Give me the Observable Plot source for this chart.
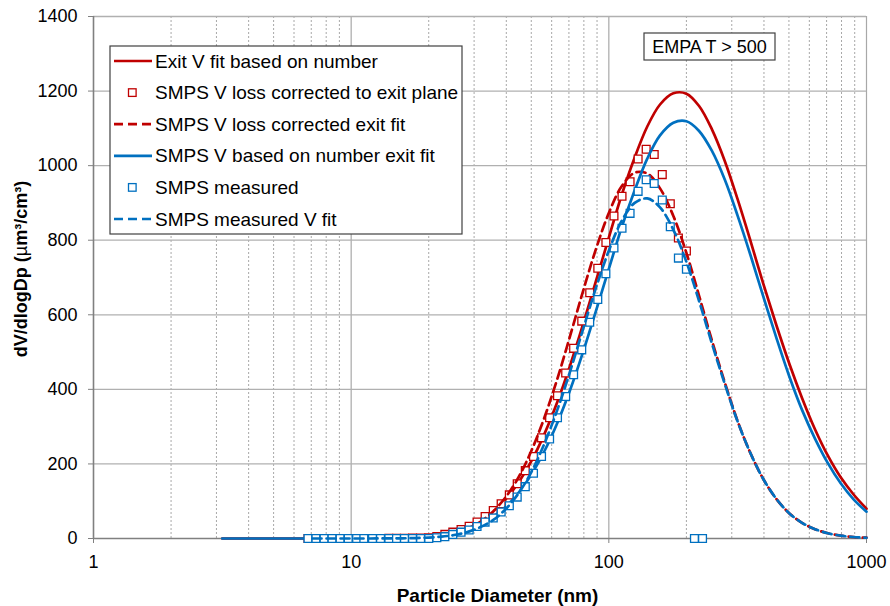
<!DOCTYPE html>
<html><head><meta charset="utf-8">
<script src="https://cdn.jsdelivr.net/npm/d3@7"></script>
<script src="https://cdn.jsdelivr.net/npm/@observablehq/plot@0.6"></script>
<style>
body{margin:0;background:#fff;}
#chart{position:relative;width:890px;height:606px;}
</style>
</head><body><div id="chart"></div>
<script>
// SMPS channel diameters (nm)
const smpsD = [6.80,7.30,7.85,8.43,9.06,9.74,10.5,11.2,12.1,13.0,14.0,15.0,16.1,17.3,18.6,20.0,21.5,23.1,24.8,26.7,28.7,30.8,33.1,35.6,38.2,41.1,44.1,47.4,51.0,54.8,58.9,63.2,68.0,73.0,78.5,84.3,90.6,97.4,104.7,112.5,120.9,129.9,139.6,150.0,161.2,173.2,186.2,200.0,214.9,231.0];
// SMPS V loss corrected to exit plane (red squares)
const smpsCorrected = [0,0,0,0,0,0,0,0,0,0.2,0.3,0.5,0.8,1,1.5,2,5,11,17,24,33,44,59,75,93,117,147,182,220,270,324,383,444,510,583,659,725,794,865,918,957,1018,1044,1030,976,898,806,771,null,null];
// SMPS measured (blue squares)
const smpsMeasured = [0,0,0,0,0,0,0,0,0,0,0,0,0,0,0,0,2,5,11,17,23,32,44,55,71,88,111,139,175,220,267,324,381,439,506,580,641,710,779,832,872,931,962,952,908,836,752,722,0,0];

// Fit curve diameters (nm)
const fitD = [3.16,3.55,3.98,4.47,5.01,5.62,6.31,7.08,7.94,8.91,10,11.2,12.6,14.1,15.8,17.8,20.0,22.4,25.1,28.2,31.6,35.5,39.8,44.7,50.1,56.2,63.1,70.8,79.4,89.1,100,112,126,141,158,178,200,224,251,282,316,355,398,447,501,562,631,708,794,891,1000];
const exitVFit = [0,0,0,0,0,0,0,0,0,0.1,0.2,0.4,0.8,1.4,2.5,4.4,7.5,12.5,20,32,49,73,106,151,208,280,366,465,574,690,807,920,1022,1105,1164,1194,1193,1160,1098,1012,910,797,682,572,470,377,293,222,164,118,80];
const correctedFit = [null,null,null,null,null,null,null,0,0,0,0,0.05,0.2,0.5,1.1,2.2,4.4,8.3,15,26,44,72,111,165,236,324,428,544,663,776,873,944,981,979,939,865,766,651,532,418,315,228,159,106,68,42,25,14,7.8,4.1,2.1];
const numberExitFit = [0,0,0,0,0,0,0,0,0,0,0.1,0.25,0.5,0.9,1.7,3,5.3,9,15,24,38,58,85,123,172,234,310,399,500,610,723,833,934,1019,1081,1115,1119,1093,1040,962,866,759,648,538,436,345,268,202,148,105,72];
const measuredFit = [null,null,null,null,null,null,null,0,0,0,0,0.03,0.1,0.3,0.6,1.2,2.5,4.9,9.3,17,30,49,79,122,179,254,345,449,561,672,772,851,900,912,888,828,742,637,524,414,314,228,159,106,68,42,25,14,7.6,4.0,2.0];

const xMajor = [1,10,100,1000];
const xMinor = [2,3,4,5,6,7,8,9,20,30,40,50,60,70,80,90,200,300,400,500,600,700,800,900];
const yTicks = [0,200,400,600,800,1000,1200,1400];

const legendLabels = ["Exit V fit based on number","SMPS V loss corrected to exit plane","SMPS V loss corrected exit fit","SMPS V based on number exit fit","SMPS measured","SMPS measured V fit"];
const annotation = "EMPA T > 500";
const xTitle = "Particle Diameter (nm)";

const RED = "#C00000", BLUE = "#0070C0";
const smpsRows = smpsD.map((d,i)=>({d, corr: smpsCorrected[i], meas: smpsMeasured[i]}));
const fitRows = fitD.map((d,i)=>({d, exitV: exitVFit[i], corrFit: correctedFit[i], numFit: numberExitFit[i], measFit: measuredFit[i]}));

const lineW = 2.7, dash = "9,5", CURVE = "catmull-rom";
const chart = Plot.plot({
  width: 890, height: 606,
  marginLeft: 93, marginRight: 24, marginTop: 16, marginBottom: 68,
  style: {fontFamily: "'Liberation Sans', Arial, sans-serif", fontSize: "18px", color: "#000", background: "#fff", overflow: "visible"},
  x: {type: "log", domain: [1,1000], label: null},
  y: {domain: [0,1400], label: null},
  marks: [
    Plot.ruleX(xMinor, {stroke: "#a8a8a8", strokeWidth: 1, strokeDasharray: "2,2"}),
    Plot.ruleX(xMajor.slice(1), {stroke: "#a8a8a8", strokeWidth: 1.2}),
    Plot.ruleY(yTicks.slice(1), {stroke: "#b0b0b0", strokeWidth: 1.3}),
    Plot.ruleY([0], {stroke: "#808080", strokeWidth: 1.6}),
    Plot.ruleX([1], {stroke: "#808080", strokeWidth: 1.6}),
    Plot.axisX({ticks: xMajor, tickFormat: d3.format("d"), tickSize: 5, tickPadding: 12, stroke: "#808080", label: null}),
    Plot.axisY({ticks: yTicks, tickFormat: d3.format("d"), tickSize: 5, tickPadding: 11, stroke: "#808080", label: null}),
    Plot.line(fitRows, {x: "d", y: "exitV", stroke: RED, strokeWidth: lineW, curve: CURVE}),
    Plot.dot(smpsRows.filter(r=>r.corr!=null), {x: "d", y: "corr", symbol: "square", r: 4.4, stroke: RED, fill: "white", strokeWidth: 1.3}),
    Plot.line(fitRows.filter(r=>r.corrFit!=null), {x: "d", y: "corrFit", stroke: RED, strokeWidth: lineW, strokeDasharray: dash, curve: CURVE}),
    Plot.line(fitRows, {x: "d", y: "numFit", stroke: BLUE, strokeWidth: lineW, curve: CURVE}),
    Plot.dot(smpsRows, {x: "d", y: "meas", symbol: "square", r: 4.4, stroke: BLUE, fill: "white", strokeWidth: 1.3}),
    Plot.line(fitRows.filter(r=>r.measFit!=null), {x: "d", y: "measFit", stroke: BLUE, strokeWidth: lineW, strokeDasharray: dash, curve: CURVE})
  ]
});
document.getElementById("chart").appendChild(chart);

const svg = d3.select(chart);
const FONT = "'Liberation Sans', Arial, sans-serif";
// Legend
const lg = svg.append("g").attr("font-family", FONT).attr("font-size", 19).attr("text-anchor","start");
lg.append("rect").attr("x",110).attr("y",46).attr("width",352).attr("height",188).attr("fill","white").attr("stroke","#404040").attr("stroke-width",1.2);
const legendStyles = [
  {c: RED, t: "line"}, {c: RED, t: "square"}, {c: RED, t: "dash"},
  {c: BLUE, t: "line"}, {c: BLUE, t: "square"}, {c: BLUE, t: "dash"}
];
legendLabels.forEach((lab,i)=>{
  const y = 61 + i*31.6, s = legendStyles[i];
  if (s.t === "square") {
    lg.append("rect").attr("x",128.5).attr("y",y-3.8).attr("width",7.6).attr("height",7.6).attr("fill","white").attr("stroke",s.c).attr("stroke-width",1.3);
  } else {
    lg.append("line").attr("x1",114).attr("x2",152).attr("y1",y).attr("y2",y).attr("stroke",s.c).attr("stroke-width",lineW).attr("stroke-dasharray", s.t==="dash"? dash : null);
  }
  lg.append("text").attr("x",155).attr("y",y).attr("dy","0.35em").attr("text-anchor","start").text(lab);
});
// Annotation box
const ab = svg.append("g").attr("font-family", FONT).attr("font-size", 18);
ab.append("rect").attr("x",644).attr("y",33).attr("width",131).attr("height",27).attr("fill","white").attr("stroke","#404040").attr("stroke-width",1.2);
ab.append("text").attr("x",709.5).attr("y",47).attr("dy","0.35em").attr("text-anchor","middle").text(annotation);
// Axis titles
svg.append("text").attr("font-family",FONT).attr("font-size",19).attr("font-weight","bold").attr("x",497.5).attr("y",595).attr("dy","0.35em").attr("text-anchor","middle").text(xTitle);
const yt = svg.append("text").attr("font-family",FONT).attr("font-size",18).attr("font-weight","bold").attr("text-anchor","middle").attr("transform","translate(21,269) rotate(-90)").attr("dy","0.35em");
yt.append("tspan").text("dV/dlogDp (");
yt.append("tspan").attr("font-weight","normal").text("µ");
yt.append("tspan").text("m³/cm³)");
</script>
</body></html>
